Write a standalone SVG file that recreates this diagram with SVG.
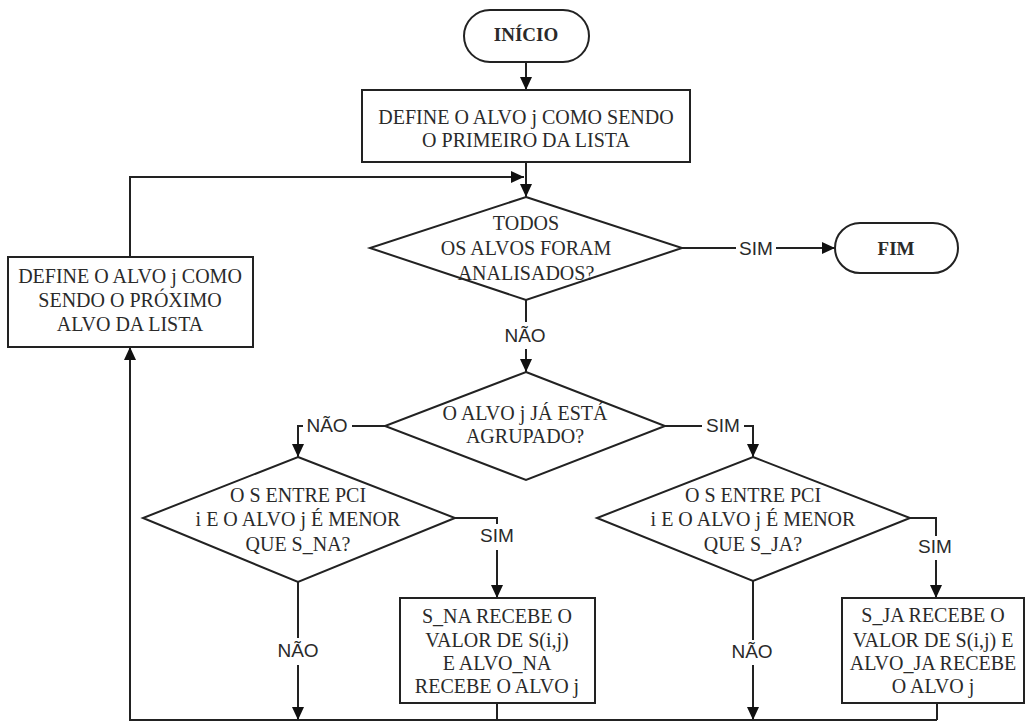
<svg xmlns="http://www.w3.org/2000/svg" width="1026" height="722" viewBox="0 0 1026 722">
  <style>
    .shape { fill: #fff; stroke: #222; stroke-width: 2; }
    .conn { fill: none; stroke: #222; stroke-width: 2; }
    .txt { font-family: "Liberation Serif", "Times New Roman", serif; font-size: 20px; fill: #2a2a2a; text-anchor: middle; }
    .term { font-family: "Liberation Serif", "Times New Roman", serif; font-size: 19px; font-weight: bold; fill: #2a2a2a; text-anchor: middle; }
    .lbl { font-family: "Liberation Sans", Arial, sans-serif; font-size: 19px; fill: #2a2a2a; text-anchor: middle; }
  </style>
  <defs>
    <marker id="arrow" markerUnits="userSpaceOnUse" markerWidth="14" markerHeight="12" refX="13" refY="6" orient="auto">
      <path d="M0,0 L13,6 L0,12 z" fill="#111"/>
    </marker>
  </defs>
  <rect width="1026" height="722" fill="#fff"/>

  <!-- connectors -->
  <g id="connectors" class="conn">
    <path d="M526,62 V90" marker-end="url(#arrow)"/>
    <path d="M526,162 V197" marker-end="url(#arrow)"/>
    <path d="M130,257 V177 H524" marker-end="url(#arrow)"/>
    <path d="M682,248 H736 M776,248 H835" marker-end="url(#arrow)"/>
    <path d="M526,300 V322 M526,349 V372" marker-end="url(#arrow)"/>
    <path d="M385,426 H352 M303,426 H298 V457" marker-end="url(#arrow)"/>
    <path d="M665,426 H702 M744,426 H753 V457" marker-end="url(#arrow)"/>
    <path d="M455,518 H497 V524 M497,550 V598" marker-end="url(#arrow)"/>
    <path d="M910,518 H936 V536 M936,560 V598" marker-end="url(#arrow)"/>
    <path d="M298,582 V638 M298,665 V720" marker-end="url(#arrow)"/>
    <path d="M753,581 V640 M753,665 V720" marker-end="url(#arrow)"/>
    <path d="M497,703 V720"/>
    <path d="M937,703 V720"/>
    <path d="M937,720 H130 V347" marker-end="url(#arrow)"/>
  </g>

  <!-- branch labels -->
  <g id="labels" class="lbl">
    <text x="756" y="255">SIM</text>
    <text x="525" y="342">NÃO</text>
    <text x="327" y="432">NÃO</text>
    <text x="723" y="432">SIM</text>
    <text x="497" y="542">SIM</text>
    <text x="935" y="553">SIM</text>
    <text x="298" y="657">NÃO</text>
    <text x="752" y="658">NÃO</text>
  </g>

  <g id="inicio">
    <rect class="shape" x="464" y="10" width="125" height="52" rx="26"/>
    <text class="term" x="526" y="41">INÍCIO</text>
  </g>

  <g id="define-primeiro">
    <rect class="shape" x="362" y="90" width="328" height="72"/>
    <text class="txt" x="526" y="124">DEFINE O ALVO j COMO SENDO</text>
    <text class="txt" x="526" y="147">O PRIMEIRO DA LISTA</text>
  </g>

  <g id="todos-analisados">
    <polygon class="shape" points="526,197 682,248 526,300 370,248"/>
    <text class="txt" x="526" y="230">TODOS</text>
    <text class="txt" x="526" y="255">OS ALVOS FORAM</text>
    <text class="txt" x="526" y="280">ANALISADOS?</text>
  </g>

  <g id="fim">
    <rect class="shape" x="835" y="223" width="123" height="50" rx="25"/>
    <text class="term" x="896" y="255">FIM</text>
  </g>

  <g id="define-proximo">
    <rect class="shape" x="8" y="257" width="245" height="90"/>
    <text class="txt" x="130" y="283">DEFINE O ALVO j COMO</text>
    <text class="txt" x="130" y="307">SENDO O PRÓXIMO</text>
    <text class="txt" x="130" y="331">ALVO DA LISTA</text>
  </g>

  <g id="ja-agrupado">
    <polygon class="shape" points="526,372 665,426 526,480 385,426"/>
    <text class="txt" x="525" y="420">O ALVO j JÁ ESTÁ</text>
    <text class="txt" x="525" y="443">AGRUPADO?</text>
  </g>

  <g id="menor-s-na">
    <polygon class="shape" points="298,457 455,518 298,582 143,518"/>
    <text class="txt" x="298" y="502">O S ENTRE PCI</text>
    <text class="txt" x="298" y="526">i E O ALVO j É MENOR</text>
    <text class="txt" x="298" y="551">QUE S_NA?</text>
  </g>

  <g id="menor-s-ja">
    <polygon class="shape" points="753,457 910,518 753,581 597,518"/>
    <text class="txt" x="753" y="502">O S ENTRE PCI</text>
    <text class="txt" x="753" y="526">i E O ALVO j É MENOR</text>
    <text class="txt" x="753" y="551">QUE S_JA?</text>
  </g>

  <g id="atualiza-na">
    <rect class="shape" x="400" y="598" width="195" height="105"/>
    <text class="txt" x="497" y="623">S_NA RECEBE O</text>
    <text class="txt" x="497" y="647">VALOR DE S(i,j)</text>
    <text class="txt" x="497" y="670">E ALVO_NA</text>
    <text class="txt" x="497" y="693">RECEBE O ALVO j</text>
  </g>

  <g id="atualiza-ja">
    <rect class="shape" x="842" y="598" width="182" height="105"/>
    <text class="txt" x="933" y="622">S_JA RECEBE O</text>
    <text class="txt" x="933" y="647">VALOR DE S(i,j) E</text>
    <text class="txt" x="933" y="670">ALVO_JA RECEBE</text>
    <text class="txt" x="933" y="693">O ALVO j</text>
  </g>
</svg>
